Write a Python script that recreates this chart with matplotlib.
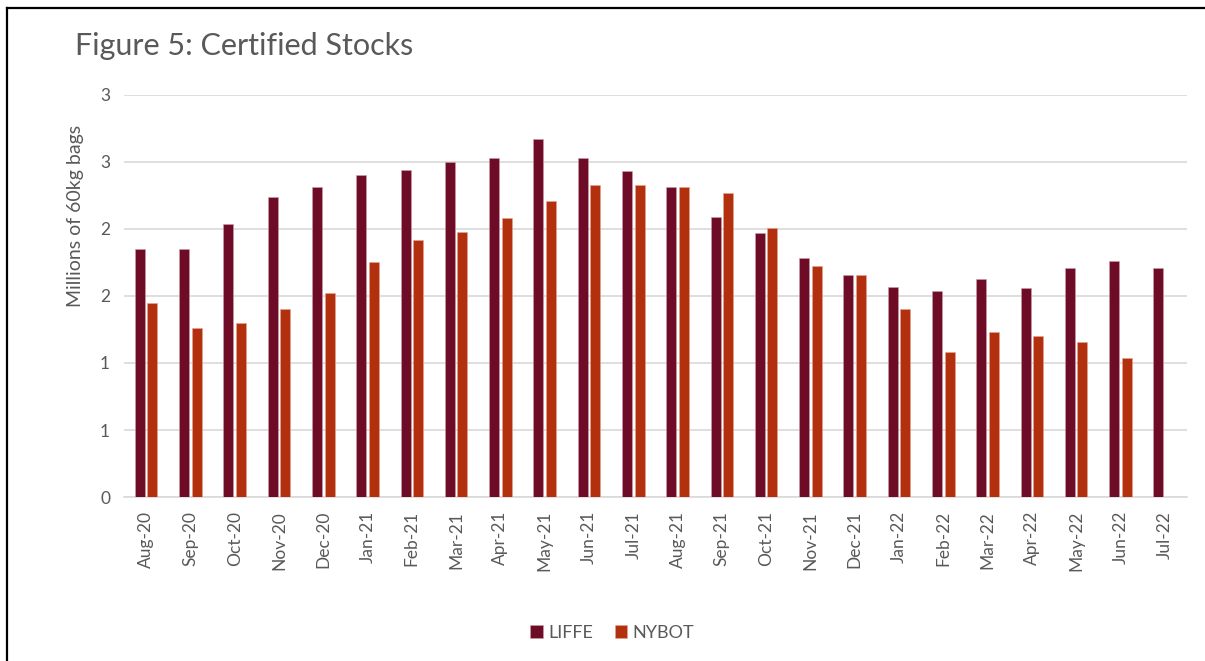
import numpy as np
import matplotlib.pyplot as plt
from matplotlib.lines import Line2D
from matplotlib.ticker import FuncFormatter, MultipleLocator

months = ['Aug-20', 'Sep-20', 'Oct-20', 'Nov-20', 'Dec-20', 'Jan-21', 'Feb-21', 'Mar-21',
          'Apr-21', 'May-21', 'Jun-21', 'Jul-21', 'Aug-21', 'Sep-21', 'Oct-21', 'Nov-21',
          'Dec-21', 'Jan-22', 'Feb-22', 'Mar-22', 'Apr-22', 'May-22', 'Jun-22', 'Jul-22']
liffe = [1.85, 1.85, 2.04, 2.24, 2.31, 2.40, 2.44, 2.50, 2.53, 2.67, 2.53, 2.43,
         2.31, 2.09, 1.97, 1.78, 1.66, 1.57, 1.54, 1.63, 1.56, 1.71, 1.76, 1.71]
nybot = [1.45, 1.26, 1.30, 1.40, 1.52, 1.75, 1.92, 1.98, 2.08, 2.21, 2.33, 2.33,
         2.31, 2.27, 2.01, 1.72, 1.66, 1.40, 1.08, 1.23, 1.20, 1.16, 1.04, np.nan]

c_liffe = '#6E0B26'
c_nybot = '#B3300F'
grey = '#595959'

plt.rcParams['font.family'] = ['Lato', 'DejaVu Sans']

fig = plt.figure(figsize=(12.05, 6.61), dpi=100)
ax = fig.add_axes([0.1029, 0.248, 0.882, 0.6085])

x = np.arange(len(months))
w = 0.226
ax.bar(x - 0.142, liffe, w, color=c_liffe, edgecolor='#c9a0aa', linewidth=0.4, label='LIFFE', zorder=3)
ax.bar(x + 0.142, nybot, w, color=c_nybot, edgecolor='#e3a58f', linewidth=0.4, label='NYBOT', zorder=3)

ax.set_xlim(-0.5, len(months) - 0.5)
ax.set_ylim(0, 3.0)
ax.yaxis.set_major_locator(MultipleLocator(0.5))
ax.yaxis.set_major_formatter(FuncFormatter(lambda v, p: str(int(np.floor(v + 0.5)))))
ax.grid(axis='y', color='#d9d9d9', linewidth=1.2, zorder=0)
for s in ['top', 'right', 'left']:
    ax.spines[s].set_visible(False)
ax.spines['bottom'].set_color('#d9d9d9')
ax.spines['bottom'].set_linewidth(1.2)
ax.tick_params(axis='both', length=0, labelsize=12.5, colors=grey, pad=10)
ax.set_xticks(x)
ax.set_xticklabels(months, rotation=90)
ax.set_ylabel('Millions of 60kg bags', fontsize=14, color=grey)
ax.yaxis.set_label_coords(-0.038, 0.70)

fig.text(0.062, 0.93, 'Figure 5: Certified Stocks', fontsize=22, color=grey, va='center')

fig.legend(loc='center', bbox_to_anchor=(0.508, 0.043), ncol=2, frameon=False,
           fontsize=13, labelcolor=grey, handlelength=0.7, handleheight=0.7,
           handletextpad=0.3, columnspacing=1.2)

fig.add_artist(Line2D([7 / 1205, 7 / 1205], [0, 1 - 8 / 661], color='black', linewidth=1.6))
fig.add_artist(Line2D([7 / 1205, 1], [1 - 8 / 661, 1 - 8 / 661], color='black', linewidth=1.6))

plt.savefig('out.png', dpi=100)
